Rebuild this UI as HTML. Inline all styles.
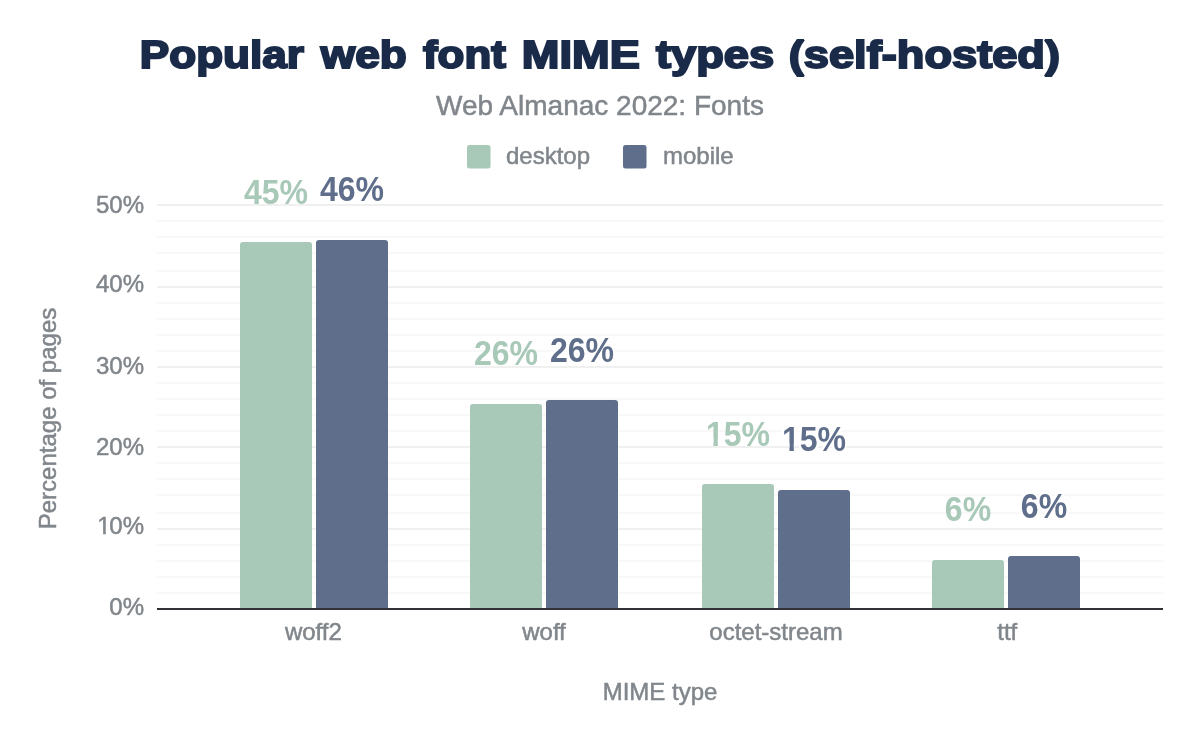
<!DOCTYPE html>
<html><head><meta charset="utf-8"><style>
html,body{margin:0;padding:0;background:#fff;}
svg{display:block;will-change:transform;}
text{font-family:"Liberation Sans",Arial,sans-serif;}
.title{font-weight:bold;font-size:39px;fill:#1a2b49;stroke:#1a2b49;stroke-width:2px;stroke-linejoin:miter;stroke-miterlimit:2;}
.sub{stroke:#80868b;stroke-width:0.5px;font-size:28px;fill:#80868b;text-anchor:middle;}
.leg{stroke:#80868b;stroke-width:0.5px;font-size:24px;fill:#80868b;}
.tk{stroke:#80868b;stroke-width:0.5px;font-size:24px;fill:#80868b;text-anchor:end;}
.cat{stroke:#80868b;stroke-width:0.5px;font-size:24px;fill:#80868b;text-anchor:middle;}
.dl{font-size:35px;font-weight:bold;text-anchor:middle;}
.ax{stroke:#80868b;stroke-width:0.5px;font-size:24px;fill:#80868b;text-anchor:middle;}
.dl.m{paint-order:stroke;stroke:#fff;stroke-width:5px;stroke-linejoin:round;}
</style></head><body>
<svg width="1200" height="742" viewBox="0 0 1200 742">
<rect width="1200" height="742" fill="#fff"/>
<defs><clipPath id="nofoot" clipPathUnits="userSpaceOnUse"><path clip-rule="evenodd" d="M-80,-80 H80 V40 H-80 Z M-35.82,-8 H-26.86 V4 H-35.82 Z M-22.05,-8 H-15.93 V4 H-22.05 Z"/></clipPath><clipPath id="nofoot10" clipPathUnits="userSpaceOnUse"><path clip-rule="evenodd" d="M0,0 H1200 V742 H0 Z M97.79,531.30 H103.15 V535.80 H97.79 Z M105.77,531.30 H110.50 V535.80 H105.77 Z"/></clipPath></defs>
<text y="68" class="title"><tspan x="139.80" textLength="164.20" lengthAdjust="spacingAndGlyphs">Popular</tspan> <tspan x="320.80" textLength="86.00" lengthAdjust="spacingAndGlyphs">web</tspan> <tspan x="423.00" textLength="82.80" lengthAdjust="spacingAndGlyphs">font</tspan> <tspan x="521.80" textLength="118.00" lengthAdjust="spacingAndGlyphs">MIME</tspan> <tspan x="656.00" textLength="118.20" lengthAdjust="spacingAndGlyphs">types</tspan> <tspan x="788.80" textLength="271.20" lengthAdjust="spacingAndGlyphs">(self-hosted)</tspan></text>
<text x="600" y="115" class="sub">Web Almanac 2022: Fonts</text>
<rect x="467" y="145" width="23.5" height="23.5" rx="2.5" fill="#a8c8b8"/>
<text x="506" y="164" class="leg">desktop</text>
<rect x="623" y="145" width="23.5" height="23.5" rx="2.5" fill="#5f6e8a"/>
<text x="663" y="164" class="leg">mobile</text>
<rect x="157" y="592" width="1006" height="2" fill="#f8f8f8"/><rect x="157" y="576" width="1006" height="2" fill="#f8f8f8"/><rect x="157" y="560" width="1006" height="2" fill="#f8f8f8"/><rect x="157" y="544" width="1006" height="2" fill="#f8f8f8"/><rect x="157" y="528" width="1006" height="2" fill="#f0f0f0"/><rect x="157" y="512" width="1006" height="2" fill="#f8f8f8"/><rect x="157" y="494" width="1006" height="2" fill="#f8f8f8"/><rect x="157" y="478" width="1006" height="2" fill="#f8f8f8"/><rect x="157" y="462" width="1006" height="2" fill="#f8f8f8"/><rect x="157" y="446" width="1006" height="2" fill="#f0f0f0"/><rect x="157" y="430" width="1006" height="2" fill="#f8f8f8"/><rect x="157" y="414" width="1006" height="2" fill="#f8f8f8"/><rect x="157" y="398" width="1006" height="2" fill="#f8f8f8"/><rect x="157" y="382" width="1006" height="2" fill="#f8f8f8"/><rect x="157" y="366" width="1006" height="2" fill="#f0f0f0"/><rect x="157" y="350" width="1006" height="2" fill="#f8f8f8"/><rect x="157" y="334" width="1006" height="2" fill="#f8f8f8"/><rect x="157" y="318" width="1006" height="2" fill="#f8f8f8"/><rect x="157" y="302" width="1006" height="2" fill="#f8f8f8"/><rect x="157" y="286" width="1006" height="2" fill="#f0f0f0"/><rect x="157" y="270" width="1006" height="2" fill="#f8f8f8"/><rect x="157" y="252" width="1006" height="2" fill="#f8f8f8"/><rect x="157" y="236" width="1006" height="2" fill="#f8f8f8"/><rect x="157" y="220" width="1006" height="2" fill="#f8f8f8"/><rect x="157" y="204" width="1006" height="2" fill="#f0f0f0"/>
<text x="144" y="615.2" class="tk">0%</text><text y="534.3" class="tk" style="text-anchor:start" clip-path="url(#nofoot10)"><tspan x="97.36">1</tspan><tspan x="109.31">0%</tspan></text><text x="144" y="454.5" class="tk">20%</text><text x="144" y="373.5" class="tk">30%</text><text x="144" y="292.3" class="tk">40%</text><text x="144" y="212.5" class="tk">50%</text>
<path d="M240,608 V245 Q240,242 243,242 H309 Q312,242 312,245 V608 Z" fill="#a8c8b8"/><text transform="translate(276,204) scale(0.915,1)" class="dl d" fill="#a8c8b8">45%</text><path d="M316,608 V243 Q316,240 319,240 H385 Q388,240 388,243 V608 Z" fill="#5f6e8a"/><text transform="translate(352,201) scale(0.915,1)" class="dl m" fill="#5f6e8a">46%</text><path d="M470,608 V407 Q470,404 473,404 H539 Q542,404 542,407 V608 Z" fill="#a8c8b8"/><text transform="translate(506,365) scale(0.915,1)" class="dl d" fill="#a8c8b8">26%</text><path d="M546,608 V403 Q546,400 549,400 H615 Q618,400 618,403 V608 Z" fill="#5f6e8a"/><text transform="translate(582,362) scale(0.915,1)" class="dl m" fill="#5f6e8a">26%</text><path d="M702,608 V487 Q702,484 705,484 H771 Q774,484 774,487 V608 Z" fill="#a8c8b8"/><text transform="translate(738,446) scale(0.915,1)" class="dl d" fill="#a8c8b8" clip-path="url(#nofoot)">15%</text><path d="M778,608 V493 Q778,490 781,490 H847 Q850,490 850,493 V608 Z" fill="#5f6e8a"/><text transform="translate(814,451) scale(0.915,1)" class="dl m" fill="#5f6e8a" clip-path="url(#nofoot)">15%</text><path d="M932,608 V563 Q932,560 935,560 H1001 Q1004,560 1004,563 V608 Z" fill="#a8c8b8"/><text transform="translate(968,521) scale(0.915,1)" class="dl d" fill="#a8c8b8">6%</text><path d="M1008,608 V559 Q1008,556 1011,556 H1077 Q1080,556 1080,559 V608 Z" fill="#5f6e8a"/><text transform="translate(1044,517.5) scale(0.915,1)" class="dl m" fill="#5f6e8a">6%</text>
<rect x="157" y="608" width="1006" height="2" fill="#303136"/>
<text x="313.4" y="640" class="cat">woff2</text><text x="544" y="640" class="cat">woff</text><text x="776" y="640" class="cat">octet-stream</text><text x="1007.3" y="640" class="cat">ttf</text>
<text x="660" y="700" class="ax">MIME type</text>
<text transform="translate(56,418.5) rotate(-90)" x="0" y="0" class="ax">Percentage of pages</text>
</svg>
</body></html>
